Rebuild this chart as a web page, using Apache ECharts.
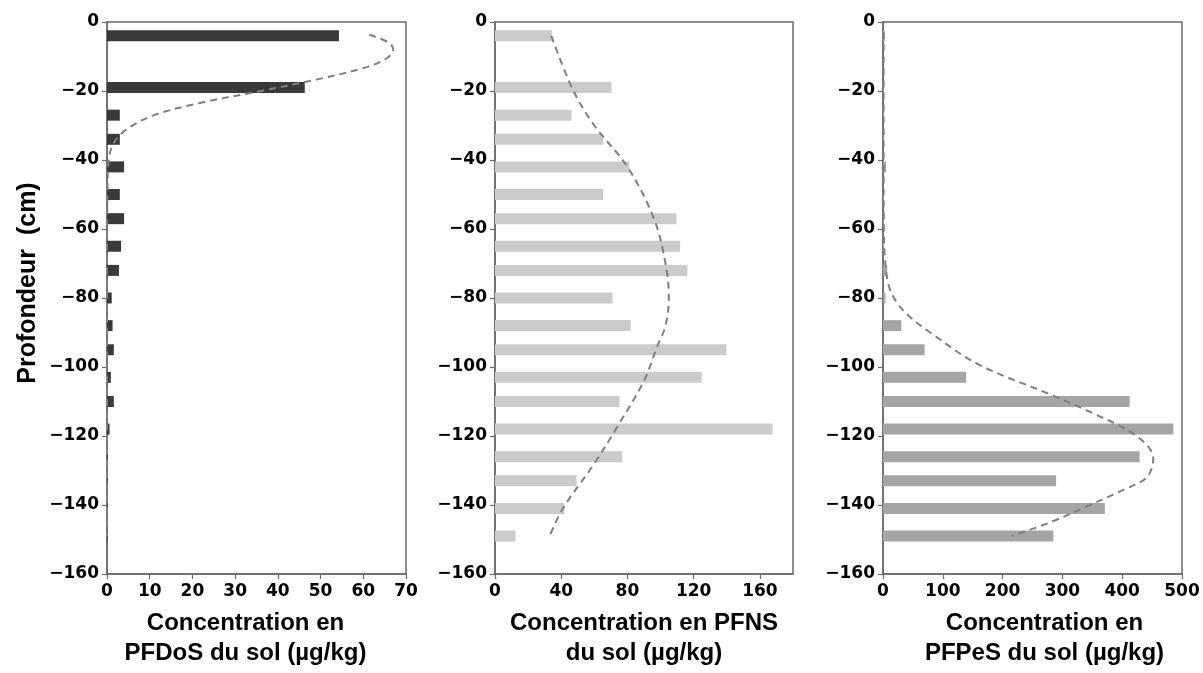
<!DOCTYPE html>
<html>
<head>
<meta charset="utf-8">
<script src="https://cdn.jsdelivr.net/npm/echarts@6/dist/echarts.min.js"></script>
<style>html,body{margin:0;padding:0;background:#fff}#c{width:1203px;height:673px}</style>
</head>
<body>
<div id="c"></div>
<script>
// Depths (cm) of the sampled layers (plotted as negative values)
var depths = [4, 19, 27, 34, 42, 50, 57, 65, 72, 80, 88, 95, 103, 110, 118, 126, 133, 141, 149];

// Bar values (µg/kg)
var pfdos = [54.3, 46.3, 3.0, 3.0, 4.0, 3.0, 4.0, 3.3, 2.8, 1.1, 1.3, 1.6, 0.9, 1.6, 0.6, 0.2, 0.15, 0.15, 0.1];
var pfns  = [34.4, 70.4, 46.2, 65.5, 81.2, 65.3, 109.6, 111.8, 116.2, 71.0, 82.0, 139.8, 124.9, 75.2, 167.7, 76.8, 49.3, 42.0, 12.4];
var pfpes = [3, 1, 1, 1, 5, 1, 1, 1.5, 7, 4, 30.6, 69.6, 139, 412.5, 485.5, 429, 289.5, 371, 285];

// Dashed trend curves: [value, depth]
var pfdosCurve = [[61.4,3.7],[66,6],[67,8],[65.5,10.5],[61,13],[49,16.7],[36,20],[22,23.4],[11,27],[4.7,31],[1.6,35],[0.4,40],[0.1,50],[0,70],[0,100],[0,149]];
var pfnsCurve  = [[34,4],[47,19.6],[60,30],[80,42],[96,57],[103,70],[105,80],[103,88],[98,94],[90,104],[73,118],[60,128],[41,141],[33,149]];
var pfpesCurve = [[1,3],[1,20],[1,40],[1.5,60],[3,68],[9,76],[22,81],[45,85.5],[79,90],[157,99],[280,108],[346,113],[424,120],[452,126.5],[441,132],[402,135.6],[346,140],[280,145],[215,149]];

// Axis settings
var xMaxes = [70, 180, 500];
var xIntervals = [10, 40, 100];
var yMin = -160, yMax = 0, yInterval = 20;
var xTitles = ['Concentration en\nPFDoS du sol (µg/kg)', 'Concentration en PFNS\ndu sol (µg/kg)', 'Concentration en\nPFPeS du sol (µg/kg)'];
var yTitle = 'Profondeur  (cm)';

var barColors = ['#3a3a3a', '#cbcbcb', '#a5a5a5'];
var barSets = [pfdos, pfns, pfpes];
var curves = [pfdosCurve, pfnsCurve, pfpesCurve];

var grids = [
  {left: 107, right: 1203 - 406, top: 22, bottom: 673 - 578},
  {left: 495, right: 1203 - 793, top: 22, bottom: 673 - 578},
  {left: 883, right: 1203 - 1182, top: 22, bottom: 673 - 578}
];
var titleShift = [-11, 0, 12];

var tickFont = {fontFamily: 'DejaVu Sans', fontWeight: 'bold', fontSize: 17, color: '#000'};
var axisCol = '#6a6a6a';

function renderBar(params, api) {
  var v = api.value(0), d = api.value(1);
  var p0 = api.coord([0, d]);
  var p1 = api.coord([v, d]);
  var h = 11;
  return {
    type: 'rect',
    shape: {x: p0[0], y: p0[1] - h / 2, width: Math.max(p1[0] - p0[0], 0.6), height: h},
    style: {fill: api.visual('color')}
  };
}

var xAxes = [], yAxes = [], series = [];
for (var i = 0; i < 3; i++) {
  var sh = titleShift[i];
  xAxes.push({
    type: 'value', gridIndex: i, min: 0, max: xMaxes[i], interval: xIntervals[i],
    position: 'bottom',
    splitLine: {show: false},
    axisLine: {show: true, onZero: false, lineStyle: {color: axisCol, width: 1.5}},
    axisTick: {show: true, length: 5, lineStyle: {color: axisCol, width: 1.2}},
    axisLabel: Object.assign({margin: 9, showMaxLabel: i !== 1}, tickFont),
    name: xTitles[i], nameLocation: 'middle', nameGap: 34,
    nameTextStyle: {fontFamily: 'Liberation Sans', fontWeight: 'bold', fontSize: 24, color: '#000', lineHeight: 30,
      padding: sh < 0 ? [0, -2 * sh, 0, 0] : [0, 0, 0, 2 * sh]}
  });
  yAxes.push({
    type: 'value', gridIndex: i, min: yMin, max: yMax, interval: yInterval,
    position: 'left',
    splitLine: {show: false},
    axisLine: {show: true, onZero: false, lineStyle: {color: axisCol, width: 1.5}},
    axisTick: {show: true, length: 5, lineStyle: {color: axisCol, width: 1.2}},
    axisLabel: Object.assign({margin: 8, formatter: function (v) { return String(v).replace('-', '\u2212'); }}, tickFont)
  });
  series.push({
    type: 'custom', xAxisIndex: i, yAxisIndex: i,
    renderItem: renderBar,
    itemStyle: {color: barColors[i]},
    encode: {x: 0, y: 1},
    data: barSets[i].map(function (v, k) { return [v, -depths[k]]; }),
    silent: true, clip: true
  });
  series.push({
    type: 'line', xAxisIndex: i, yAxisIndex: i, smooth: 0.35, symbol: 'none',
    lineStyle: {color: '#7f7f7f', width: 2, type: [7, 5]},
    data: curves[i].map(function (p) { return [p[0], -p[1]]; }),
    silent: true, z: 3
  });
}

var grid = grids.map(function (g) {
  return Object.assign({show: true, borderColor: axisCol, borderWidth: 1.5, backgroundColor: 'transparent'}, g);
});

var chart = echarts.init(document.getElementById('c'), null, {renderer: 'canvas'});
chart.setOption({
  animation: false,
  backgroundColor: '#fff',
  grid: grid,
  xAxis: xAxes,
  yAxis: yAxes,
  series: series,
  graphic: [{
    type: 'text', x: 28, y: 283, rotation: Math.PI / 2,
    style: {text: yTitle, fontFamily: 'Liberation Sans', fontWeight: 'bold', fontSize: 25, fill: '#000',
      textAlign: 'center', textVerticalAlign: 'middle'}
  }]
});
</script>
</body>
</html>
